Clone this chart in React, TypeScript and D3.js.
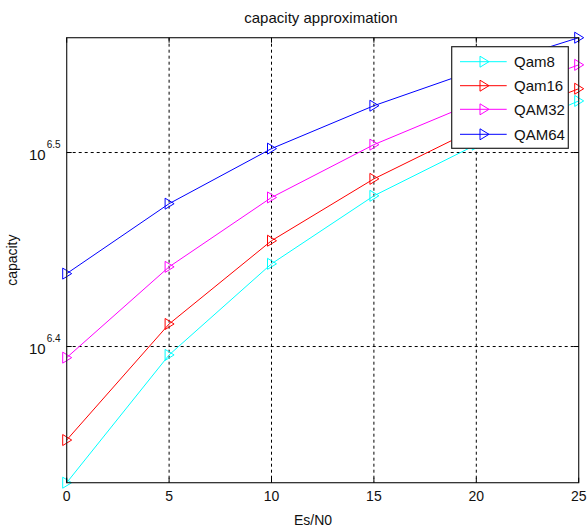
import React from "react";
import * as d3 from "d3";

const xValues = [0, 5, 10, 15, 20, 25];
const seriesNames = ["Qam8", "Qam16", "QAM32", "QAM64"];
const seriesColors = ["#00ffff", "#ff0000", "#ff00ff", "#0000ff"];
const qam8 = [2.137e6, 2.487e6, 2.771e6, 3.004e6, 3.192e6, 3.362e6];
const qam16 = [2.248e6, 2.58e6, 2.848e6, 3.065e6, 3.254e6, 3.411e6];
const qam32 = [2.479e6, 2.761e6, 2.998e6, 3.192e6, 3.358e6, 3.509e6];
const qam64 = [2.739e6, 2.976e6, 3.177e6, 3.343e6, 3.488e6, 3.624e6];
const seriesValues = [qam8, qam16, qam32, qam64];
const xTicks = [0, 5, 10, 15, 20, 25];
const yTickExponents = [6.4, 6.5];

const W = 588;
const H = 530;
const L = 66.7, R = 578.7, T = 37.7, B = 482.7;
const FONT = "'Liberation Sans', Arial, sans-serif";

function tri(x: number, y: number) {
  return `M${x - 4},${y - 5.5}L${x + 5},${y}L${x - 4},${y + 5.5}Z`;
}

export default function App() {
  const all = seriesValues.flat();
  const ext = d3.extent(all) as [number, number];
  const x = d3.scaleLinear().domain([0, 25]).range([L, R]);
  const y = d3.scaleLog().domain(ext).range([B, T]);
  const line = d3
    .line<number>()
    .x((_, i) => x(xValues[i]))
    .y((d) => y(d));

  const legX = 451.7, legY = 46.7, legW = 116.6, legH = 101.6;
  const legRows = [61.7, 85.7, 109.3, 134.3];

  return (
    <div style={{ position: "fixed", left: 0, top: 0 }}>
      <svg width={W} height={H} style={{ display: "block", background: "#fff" }}>
        <rect x={0} y={0} width={W} height={H} fill="#fff" />
        {xTicks
          .filter((t) => t > 0 && t < 25)
          .map((t) => (
            <line key={"gx" + t} x1={x(t)} x2={x(t)} y1={T} y2={B} stroke="#000" strokeDasharray="3,3" strokeWidth={1} />
          ))}
        {yTickExponents.map((e) => (
          <line key={"gy" + e} x1={L} x2={R} y1={y(Math.pow(10, e))} y2={y(Math.pow(10, e))} stroke="#000" strokeDasharray="3,3" strokeWidth={1} />
        ))}
        {seriesValues.map((vals, si) => (
          <g key={"s" + si}>
            <path d={line(vals) || ""} fill="none" stroke={seriesColors[si]} strokeWidth={1} />
            {vals.map((v, i) => (
              <path key={i} d={tri(x(xValues[i]), y(v))} fill="none" stroke={seriesColors[si]} strokeWidth={1} />
            ))}
          </g>
        ))}
        <rect x={L} y={T} width={R - L} height={B - T} fill="none" stroke="#222" strokeWidth={1.2} />
        {xTicks.map((t) => (
          <g key={"tx" + t}>
            <line x1={x(t)} x2={x(t)} y1={B} y2={B - 5} stroke="#000" />
            <line x1={x(t)} x2={x(t)} y1={T} y2={T + 5} stroke="#000" />
            <text x={x(t)} y={B + 18} textAnchor="middle" fontFamily={FONT} fontSize={14} fill="#111">
              {t}
            </text>
          </g>
        ))}
        {yTickExponents.map((e) => {
          const yy = y(Math.pow(10, e));
          return (
            <g key={"ty" + e}>
              <line x1={L} x2={L + 5} y1={yy} y2={yy} stroke="#000" />
              <line x1={R} x2={R - 5} y1={yy} y2={yy} stroke="#000" />
              <text x={L - 21} y={yy + 7} textAnchor="end" fontFamily={FONT} fontSize={15} fill="#111">
                10
              </text>
              <text x={L - 20} y={yy - 5} textAnchor="start" fontFamily={FONT} fontSize={10} fill="#111">
                {e.toFixed(1)}
              </text>
            </g>
          );
        })}
        <text x={321} y={23} textAnchor="middle" fontFamily={FONT} fontSize={15} fill="#111">
          capacity approximation
        </text>
        <text x={313} y={525} textAnchor="middle" fontFamily={FONT} fontSize={14} fill="#111">
          Es/N0
        </text>
        <text transform={`translate(17,${(T + B) / 2}) rotate(-90)`} textAnchor="middle" fontFamily={FONT} fontSize={14} fill="#111">
          capacity
        </text>
        <rect x={legX} y={legY} width={legW} height={legH} fill="#fff" stroke="#222" strokeWidth={1.2} />
        {seriesNames.map((n, i) => (
          <g key={"l" + i}>
            <line x1={460} x2={506.7} y1={legRows[i]} y2={legRows[i]} stroke={seriesColors[i]} strokeWidth={1} />
            <path d={tri(484, legRows[i])} fill="none" stroke={seriesColors[i]} strokeWidth={1} />
            <text x={514} y={legRows[i] + 5.5} fontFamily={FONT} fontSize={15} fill="#111">
              {n}
            </text>
          </g>
        ))}
      </svg>
    </div>
  );
}
